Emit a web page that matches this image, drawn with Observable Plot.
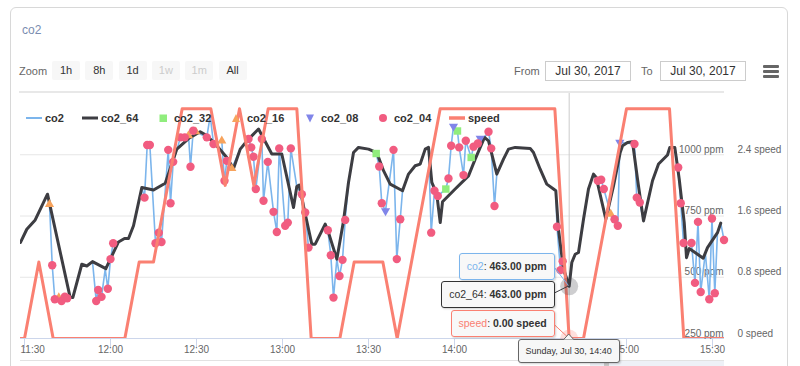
<!DOCTYPE html>
<html><head><meta charset="utf-8">
<script src="https://cdn.jsdelivr.net/npm/d3@7"></script>
<script src="https://cdn.jsdelivr.net/npm/@observablehq/plot@0.6"></script>
<style>
html,body{margin:0;padding:0;background:#fff;}
#wrap{position:relative;width:800px;height:366px;overflow:hidden;font-family:"Liberation Sans",Arial,Helvetica,sans-serif;}
.abs{position:absolute;}
.card{left:10px;top:7px;width:778px;height:420px;border:1px solid #d8d8d8;border-radius:6px;box-sizing:border-box;}
.title{left:22px;top:22px;font-size:12px;color:#7a8db0;line-height:16px;}
.zlabel{left:19px;top:63px;font-size:11px;color:#666;line-height:16px;}
.btn{top:61px;height:19px;width:28px;background:#f7f7f7;border-radius:2px;font-size:11px;color:#333;text-align:center;line-height:19px;}
.btn.dis{color:#cccccc;}
.sep{left:19px;top:91px;width:705px;height:2px;background:#e8e8e8;}
.nav{left:20px;top:360px;width:704px;height:1px;background:#e2e2e2;}
.navsel{left:590px;top:361px;width:134px;height:6px;background:#eef1f7;}
.navh{left:604px;top:361px;width:5px;height:6px;background:#c8c8c8;}
.flab{top:63px;font-size:11px;color:#666;line-height:16px;}
.inp{top:61px;height:20px;border:1px solid #cccccc;box-sizing:border-box;font-size:12px;color:#333;text-align:center;line-height:18px;}
.burger{left:763px;width:16px;height:2.6px;background:#666;border-radius:1px;}
.leg{top:110px;height:16px;font-size:11px;font-weight:bold;color:#333;line-height:16px;white-space:nowrap;}
.tip{height:27px;box-sizing:border-box;border:1px solid;border-radius:3px;background:rgba(247,247,247,0.88);font-size:10.5px;color:#333;line-height:25px;padding:0 7px;white-space:nowrap;box-shadow:1px 1px 2px rgba(0,0,0,0.18);}
.tip b{font-weight:bold;}
.date{height:24px;box-sizing:border-box;border:1px solid #666;border-radius:3px;background:#f7f7f7;font-size:9px;color:#333;line-height:22px;padding:0 6px;white-space:nowrap;box-shadow:1px 1px 2px rgba(0,0,0,0.18);}
</style></head>
<body><div id="wrap"></div>
<script>
// ---------- data (Jul 30, 2017, times UTC) ----------
const co2 = [["11:28:36",642],["11:30:48",696],["11:33:44",734],["11:38:01",839],["11:38:43",798],["11:39:40",549],["11:40:34",410],["11:41:58",417],["11:42:55",403],["11:44:04",421],["11:44:54",414],["11:46:51",417],["11:49:59",553],["11:51:44",546],["11:53:43",564],["11:55:01",403],["11:55:43",448],["11:56:52",420],["11:58:09",533],["11:59:04",453],["12:00:00",574],["12:00:56",639],["12:02:47",644],["12:04:53",658],["12:06:17",658],["12:08:01",710],["12:10:55",866],["12:11:52",825],["12:12:48",1040],["12:13:43",1040],["12:15:42",639],["12:16:51",682],["12:17:47",644],["12:20:08",1020],["12:20:56",802],["12:21:52",971],["12:24:25",1071],["12:25:55",1071],["12:27:13",1078],["12:27:54",951],["12:28:51",1098],["12:29:45",1094],["12:33:35",1071],["12:34:47",1160],["12:35:56",1044],["12:38:49",1057],["12:39:46",894],["12:40:34",975],["12:42:19",944],["12:45:15",1023],["12:48:08",1064],["12:49:05",1030],["12:49:53",992],["12:50:41",860],["12:52:47",1064],["12:53:22",812],["12:54:52",971],["12:56:52",767],["12:58:01",685],["12:58:51",1026],["13:00:56",710],["13:01:51",723],["13:02:54",1026],["13:04:59",870],["13:06:44",839],["13:07:55",764],["13:09:04",621],["13:10:13",635],["13:11:24",635],["13:14:53",717],["13:15:48",692],["13:16:51",590],["13:17:47",417],["13:18:57",574],["13:19:53",505],["13:20:56",571],["13:21:52",734],["13:23:01",887],["13:24:46",1009],["13:26:31",1030],["13:30:00",1023],["13:32:41",1005],["13:33:44",952],["13:34:38",802],["13:35:56",771],["13:38:43",1020],["13:39:52",574],["13:41:04",737],["13:41:52",853],["13:43:57",921],["13:46:17",955],["13:48:02",962],["13:49:47",1023],["13:50:56",1030],["13:51:52",682],["13:53:01",853],["13:54:10",832],["13:56:58",860],["13:57:54",903],["13:58:50",1037],["13:59:39",1116],["14:01:02",1097],["14:01:38",1030],["14:03:08",917],["14:03:56",1057],["14:05:49",989],["14:06:38",1033],["14:08:08",1046],["14:08:58",1067],["14:10:28",1071],["14:11:52",1094],["14:12:48",1026],["14:13:57",791],["14:14:45",921],["14:17:05",982],["14:18:50",1023],["14:21:10",1030],["14:26:24",1026],["14:27:33",1009],["14:29:53",941],["14:32:11",880],["14:34:32",860],["14:35:20",853],["14:35:45",706],["14:36:58",529],["14:37:44",565],["14:40:00",463],["14:40:55",560],["14:42:06",594],["14:43:15",601],["14:45:00",737],["14:46:44",860],["14:48:29",921],["14:49:59",894],["14:51:10",898],["14:52:05",860],["14:54:29",758],["14:55:49",737],["14:56:58",710],["14:57:40",1050],["15:02:47",1044],["15:03:35",825],["15:04:38",805],["15:05:56",730],["15:09:04",894],["15:11:10",962],["15:14:18",999],["15:15:06",1030],["15:16:51",1030],["15:18:02",948],["15:18:55",802],["15:19:53",640],["15:22:40",640],["15:23:53",477],["15:24:56",726],["15:25:53",440],["15:27:30",600],["15:28:53",410],["15:29:49",740],["15:30:48",435],["15:31:44",682],["15:32:53",721],["15:34:01",652]];

const co2_64 = [["11:28:36",642],["11:30:48",696],["11:33:44",734],["11:38:01",839],["11:45:56",417],["11:46:51",417],["11:49:59",553],["11:51:44",546],["11:53:43",564],["11:58:22",535],["12:02:47",644],["12:04:53",658],["12:06:17",658],["12:08:01",710],["12:10:55",866],["12:15:00",856],["12:19:05",884],["12:23:08",1023],["12:27:13",1066],["12:31:17",1094],["12:33:35",1078],["12:37:05",1037],["12:40:34",989],["12:42:55",944],["12:45:15",1023],["12:48:08",1064],["12:51:38",1105],["12:56:16",1003],["12:59:45",1003],["13:03:50",785],["13:04:59",870],["13:05:49",876],["13:07:19",791],["13:10:13",635],["13:11:24",635],["13:14:53",717],["13:16:03",682],["13:18:57",574],["13:21:17",730],["13:23:01",887],["13:24:46",1009],["13:26:31",1030],["13:30:00",1023],["13:32:53",1009],["13:35:14",935],["13:37:34",880],["13:41:52",853],["13:43:57",921],["13:46:17",955],["13:48:02",962],["13:49:47",1023],["13:50:56",1030],["13:52:05",887],["13:53:49",839],["13:55:01",723],["13:55:49",808],["14:00:14",860],["14:04:53",914],["14:07:13",982],["14:10:28",1071],["14:11:52",1057],["14:14:45",921],["14:17:05",982],["14:18:50",1023],["14:21:10",1030],["14:26:24",1026],["14:27:33",1009],["14:29:53",941],["14:32:11",880],["14:34:32",860],["14:35:20",853],["14:36:16",696],["14:38:01",533],["14:40:00",463],["14:40:55",560],["14:42:06",594],["14:43:15",601],["14:45:00",737],["14:46:44",860],["14:48:29",921],["14:49:26",907],["14:52:47",737],["14:55:28",873],["14:57:48",1009],["14:58:37",1037],["15:00:21",1050],["15:02:05",1053],["15:03:50",901],["15:05:56",730],["15:09:04",894],["15:11:10",962],["15:14:18",999],["15:15:06",1030],["15:16:51",1030],["15:18:23",901],["15:20:08",723],["15:20:56",580],["15:21:52",617],["15:26:46",578],["15:28:15",621],["15:31:44",682],["15:32:53",721]];

const co2_32 = [["13:32:41",1005],["13:56:58",860],["14:01:02",1097],["14:05:49",989]];
const co2_16 = [["11:38:43",798],["11:41:58",417],["12:27:13",1078],["12:29:45",1094],["12:38:49",1057],["12:42:19",944],["14:54:29",758]];
const co2_08 = [["13:35:56",771],["13:59:39",1116],["14:08:58",1067],["14:57:40",1050]];
const co2_04 = [["11:39:40",549],["11:40:34",410],["11:42:55",403],["11:44:04",421],["11:44:54",414],["11:55:01",403],["11:55:43",448],["11:56:52",420],["11:59:04",453],["12:00:00",574],["12:00:56",639],["12:11:52",825],["12:12:48",1040],["12:13:43",1040],["12:15:42",639],["12:16:51",682],["12:17:47",644],["12:20:08",1020],["12:20:56",802],["12:21:52",971],["12:24:25",1071],["12:25:55",1071],["12:27:54",951],["12:28:51",1098],["12:33:35",1071],["12:35:56",1044],["12:39:46",894],["12:40:34",975],["12:48:08",1064],["12:49:05",1030],["12:49:53",992],["12:50:41",860],["12:52:47",1064],["12:53:22",812],["12:54:52",971],["12:56:52",767],["12:58:01",685],["12:58:51",1026],["13:00:56",710],["13:01:51",723],["13:02:54",1026],["13:06:44",839],["13:07:55",764],["13:09:04",621],["13:15:48",692],["13:16:51",590],["13:17:47",417],["13:19:53",505],["13:20:56",571],["13:21:52",734],["13:33:44",952],["13:34:38",802],["13:38:43",1020],["13:39:52",574],["13:41:04",737],["13:51:52",682],["13:53:01",853],["13:54:10",832],["13:57:54",903],["13:58:50",1037],["14:01:38",1030],["14:03:08",917],["14:03:56",1057],["14:06:38",1033],["14:08:08",1046],["14:11:52",1094],["14:12:48",1026],["14:13:57",791],["14:35:45",706],["14:36:58",529],["14:37:44",565],["14:49:59",894],["14:51:10",898],["14:52:05",860],["14:55:49",737],["14:56:58",710],["15:02:47",1044],["15:03:35",825],["15:04:38",805],["15:18:02",948],["15:18:55",802],["15:19:53",640],["15:22:40",640],["15:23:53",477],["15:24:56",726],["15:25:53",440],["15:28:53",410],["15:29:49",740],["15:30:48",435],["15:34:01",652]];

const speed = [["11:25",0],["11:30",0],["11:35",1],["11:40",0],["12:05",0],["12:10",1],["12:15",1],["12:25",3],["12:35",3],["12:40",2],["12:45",3],["12:50",2],["12:55",3],["13:05",3],["13:10",0],["13:20",0],["13:25",1],["13:35",1],["13:40",0],["13:55",3],["14:35",3],["14:40",0],["14:45",0],["15:00",3],["15:15",3],["15:20",0],["15:35",0]];

const xTickLabels = ["11:30","12:00","12:30","13:00","13:30","14:00","14:30","15:00","15:30"];
const hiddenLabels = ["14:30"]; // covered by the tooltip date box in the reference
const ppmTicks = [250, 500, 750, 1000];
const speedTicks = [0, 0.8, 1.6, 2.4];
const xRange = ["11:28:36", "15:34:11"];
const ppmRange = [250, 1250];
const hoverTime = "14:40";
const hoverValues = {co2: 463, co2_64: 463, speed: 0};
const zoomButtons = [["1h",false],["8h",false],["1d",false],["1w",true],["1m",true],["All",false]];
const dateFrom = "Jul 30, 2017", dateTo = "Jul 30, 2017";

// ---------- helpers ----------
const DAY = "2017-07-30";
const T = s => new Date(`${DAY}T${s.length === 5 ? s + ":00" : s}Z`);
const sp = s => 250 + s * (750 / 2.4); // speed axis mapped onto ppm axis
const rows = a => a.map(([t, v]) => ({t: T(t), v}));
const C = {co2:"#7cb5ec", co2_64:"#3d3d42", co2_32:"#90ed7d", co2_16:"#f7a35c", co2_08:"#8085e9", co2_04:"#f15c80", speed:"#fa8072"};
const fmt = d3.utcFormat("%H:%M");
const xTicks = xTickLabels.map(T);
const shownTicks = xTickLabels.filter(s => !hiddenLabels.includes(s)).map(T);
const hT = T(hoverTime);

const plot = Plot.plot({
  width: 800, height: 366,
  marginLeft: 20, marginRight: 76, marginTop: 93, marginBottom: 28,
  x: {type: "utc", domain: xRange.map(T), axis: null},
  y: {domain: ppmRange, axis: null},
  style: {fontFamily: '"Liberation Sans", Arial, Helvetica, sans-serif', background: "transparent", overflow: "visible"},
  marks: [
    Plot.ruleY(ppmTicks.filter(d => d > 250), {stroke: "#e6e6e6", strokeWidth: 1}),
    Plot.ruleX([hT], {stroke: "#cccccc", strokeWidth: 1}),
    Plot.axisX(xTicks, {tickSize: 10, tickFormat: () => "", stroke: "#ccd6eb", label: null}),
    Plot.ruleY([250], {stroke: "#ccd6eb", strokeWidth: 1}),
    Plot.text(shownTicks.slice(1), {x: d => d, text: d => fmt(d), frameAnchor: "bottom", dy: 14, fill: "#666", fontSize: 10}),
    Plot.text(shownTicks.slice(0, 1), {x: d => d, text: d => fmt(d), frameAnchor: "bottom", dy: 14, dx: -4, textAnchor: "start", fill: "#666", fontSize: 10}),
    Plot.text(ppmTicks, {y: d => d, text: d => `${d} ppm`, frameAnchor: "right", textAnchor: "end", dx: -1, dy: -5, fill: "#666", fontSize: 10}),
    Plot.text(speedTicks, {y: d => sp(d), text: d => `${d} speed`, frameAnchor: "right", textAnchor: "start", dx: 13, dy: -5, fill: "#666", fontSize: 10}),
    Plot.line(rows(co2), {x: "t", y: "v", stroke: C.co2, strokeWidth: 1.6, clip: true}),
    Plot.line(rows(co2_64), {x: "t", y: "v", stroke: C.co2_64, strokeWidth: 3, clip: true}),
    Plot.dot(rows(co2_32), {x: "t", y: "v", symbol: "square", fill: C.co2_32, r: 4.2}),
    Plot.dot(rows(co2_16), {x: "t", y: "v", symbol: "triangle", fill: C.co2_16, r: 3.4}),
    Plot.dot(rows(co2_08), {x: "t", y: "v", symbol: "triangle", rotate: 180, fill: C.co2_08, r: 3.4}),
    Plot.dot(rows(co2_04), {x: "t", y: "v", symbol: "circle", fill: C.co2_04, r: 4.2}),
    Plot.line(rows(speed).map(d => ({t: d.t, v: sp(d.v)})), {x: "t", y: "v", stroke: C.speed, strokeWidth: 3, clip: true}),
    Plot.dot([{t: hT, v: hoverValues.co2_64}], {x: "t", y: "v", r: 9, fill: C.co2_64, fillOpacity: 0.25}),
    Plot.dot([{t: hT, v: sp(hoverValues.speed)}], {x: "t", y: "v", r: 9, fill: C.speed, fillOpacity: 0.25})
  ]
});

const wrap = document.getElementById("wrap");
plot.style.position = "absolute"; plot.style.left = "0px"; plot.style.top = "0px";
const add = (cls, style, html) => { const e = document.createElement("div"); e.className = "abs " + cls; Object.assign(e.style, style); if (html != null) e.innerHTML = html; wrap.appendChild(e); return e; };

add("card", {});
add("nav", {}); add("navsel", {}); add("navh", {});
wrap.appendChild(plot);
add("title", {}, "co2");
add("zlabel", {}, "Zoom");
zoomButtons.forEach(([lab, dis], i) => add("btn" + (dis ? " dis" : ""), {left: (52 + i * 33.3) + "px"}, lab));
add("sep", {});
add("flab", {left: "514px"}, "From");
add("inp", {left: "545px", width: "86px"}, dateFrom);
add("flab", {left: "641px"}, "To");
add("inp", {left: "660px", width: "86px"}, dateTo);
[65, 70, 75].forEach(y => add("burger", {top: y + "px"}));

// legend
const legend = [["co2","line",26,2],["co2_64","line",82,3],["co2_32","square",155],["co2_16","triangle",228],["co2_08","tridown",302],["co2_04","circle",375],["speed","line",449,3.5]];
legend.forEach(([name, type, x, w]) => {
  const col = C[name];
  let sym = "";
  if (type === "line") sym = `<svg width="16" height="16" style="position:absolute;left:0;top:0"><line x1="0" x2="16" y1="8" y2="8" stroke="${col}" stroke-width="${w}"/></svg>`;
  if (type === "square") sym = `<svg width="16" height="16" style="position:absolute;left:0;top:0"><rect x="4.5" y="4.5" width="7.5" height="7.5" fill="${col}"/></svg>`;
  if (type === "triangle") sym = `<svg width="16" height="16" style="position:absolute;left:0;top:0"><path d="M8,4 L12,12 L4,12 Z" fill="${col}"/></svg>`;
  if (type === "tridown") sym = `<svg width="16" height="16" style="position:absolute;left:0;top:0"><path d="M4,4.5 L12,4.5 L8,12.5 Z" fill="${col}"/></svg>`;
  if (type === "circle") sym = `<svg width="16" height="16" style="position:absolute;left:0;top:0"><circle cx="8" cy="8" r="4" fill="${col}"/></svg>`;
  add("leg", {left: x + "px", width: "60px"}, sym + `<span style="position:absolute;left:19px;top:0">${name}</span>`);
});

// tooltip, anchored on the scales
const xs = plot.scale("x"), ys = plot.scale("y");
const px = xs.apply(hT), pyC = ys.apply(hoverValues.co2), py0 = ys.apply(sp(hoverValues.speed));
const right = 800 - (px - 14);
const tips = [
  ["co2", `${hoverValues.co2.toFixed(2)} ppm`, pyC - 33],
  ["co2_64", `${hoverValues.co2_64.toFixed(2)} ppm`, pyC - 5],
  ["speed", `${hoverValues.speed.toFixed(2)} speed`, py0 - 28]
];
const svgNS = "http://www.w3.org/2000/svg";
const ov = document.createElementNS(svgNS, "svg");
ov.setAttribute("width", 800); ov.setAttribute("height", 366);
ov.style.position = "absolute"; ov.style.left = "0"; ov.style.top = "0";
wrap.appendChild(ov);
const conn = [[pyC - 33 + 15, pyC, C.co2], [pyC - 5 + 12, pyC, C.co2_64], [py0 - 28 + 15, py0, C.speed]];
conn.forEach(([y1, y2, col]) => {
  const l = document.createElementNS(svgNS, "line");
  l.setAttribute("x1", px - 14); l.setAttribute("y1", y1); l.setAttribute("x2", px); l.setAttribute("y2", y2);
  l.setAttribute("stroke", col); l.setAttribute("stroke-width", 1); ov.appendChild(l);
});
tips.forEach(([name, val, top]) => {
  const nameCol = name === "co2_64" ? "#333" : C[name];
  add("tip", {right: right + "px", top: top + "px", borderColor: C[name] === C.co2_64 ? "#333" : C[name]},
    `<span style="color:${nameCol}">${name}</span>: <b>${val}</b>`);
});
const dateStr = d3.utcFormat("%A, %b %e, %H:%M")(hT).replace("  ", " ");
add("date", {left: (px - 51) + "px", top: (py0 + 1) + "px", width: "102px", textAlign: "center"}, dateStr);
const arrow = document.createElementNS(svgNS, "path");
arrow.setAttribute("d", `M${px - 5},${py0 + 1.5} L${px},${py0 - 4} L${px + 5},${py0 + 1.5}`);
arrow.setAttribute("fill", "#f7f7f7"); arrow.setAttribute("stroke", "#666");
const ov2 = ov.cloneNode(false); wrap.appendChild(ov2); ov2.appendChild(arrow);
</script></body></html>
